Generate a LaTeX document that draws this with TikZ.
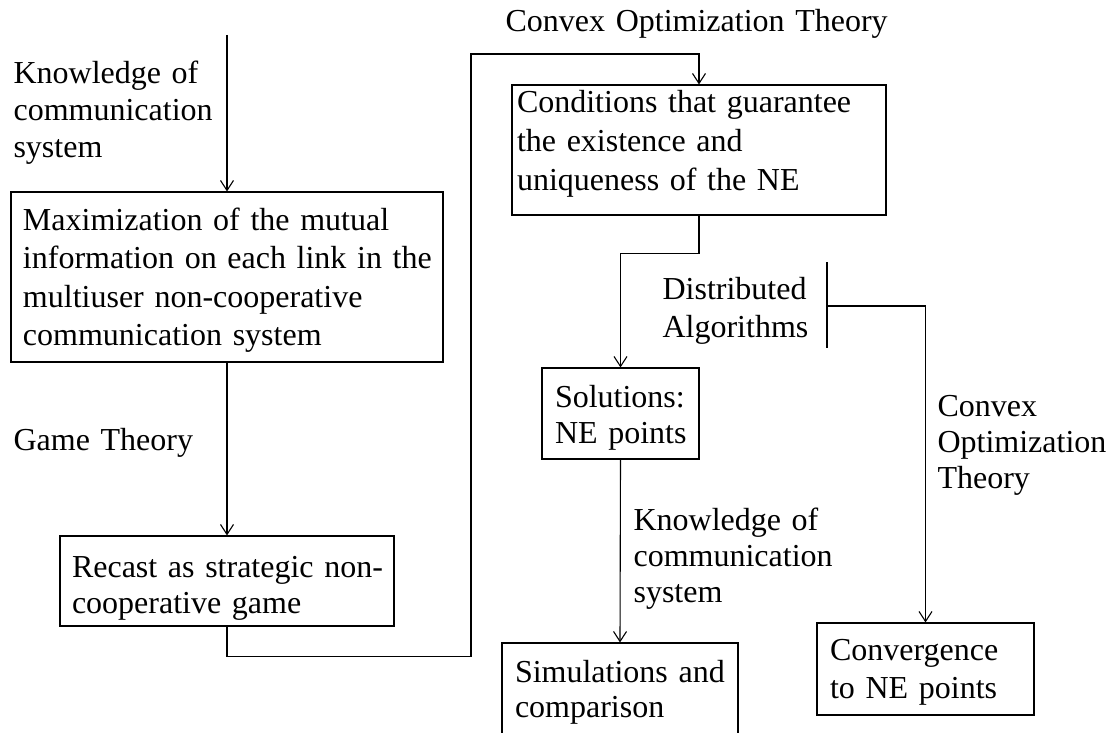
\documentclass[tikz,border=0pt]{standalone}
\usepackage{fontspec}
\setmainfont{Liberation Serif}
\usetikzlibrary{arrows.meta}
\newcommand\nohyph{\hyphenpenalty=10000 \exhyphenpenalty=10000\relax}

\begin{document}
\begin{tikzpicture}[
  x=1pt, y=-1pt,
  line width=1.1pt,
  box/.style={draw,inner xsep=12pt,inner ysep=0pt,align=left,anchor=base,
              font=\fontsize{32}{#1}\selectfont,execute at begin node=\nohyph},
  lbl/.style={inner sep=0pt,align=left,anchor=base west,
              font=\fontsize{32}{#1}\selectfont},
  arr/.style={-{Straight Barb[length=10pt,width=13pt]}}
]
\clip (0,0) rectangle (1117,733);

% boxes
\node[box=38.5,text width=408pt,text height=38pt,text depth=132pt] (maxi) at (227,230)
  {Maximization~of~the~mutual\\information~on~each~link~in~the\\multiuser~non-cooperative\\communication~system};
\node[box=36,text width=310pt,text height=41pt,text depth=49pt] (recast) at (227,577)
  {Recast~as~strategic~non-\\cooperative~game};
\node[box=39,inner xsep=5pt,text width=364pt,text height=28pt,text depth=102pt] (cond) at (699,113)
  {Conditions~that~guarantee\\the~existence~and\\uniqueness~of~the~NE};
\node[box=36,inner xsep=13pt,text width=131pt,text height=39pt,text depth=52pt] (sol) at (620.5,407)
  {Solutions:\\NE~points};
\node[box=35,inner xsep=13pt,text width=210pt,text height=39pt,text depth=70pt] (sim) at (620,682)
  {Simulations~and\\comparison};
\node[box=38,inner xsep=13pt,text width=191pt,text height=37pt,text depth=55pt] (conv) at (925.5,660)
  {Convergence\\to~NE~points};

% labels
\node[lbl=37,text width=220pt] (knowa) at (13,84) {Knowledge of\\communication\\system};
\node[lbl=36,text width=200pt] (game) at (13,450) {Game Theory};
\node[lbl=36,text width=420pt] (cvxa) at (505,32) {Convex Optimization Theory};
\node[lbl=38,text width=160pt] (dist) at (662,299) {Distributed\\Algorithms};
\node[lbl=36,text width=210pt] (knowb) at (633,530) {Knowledge of\\communication\\system};
\node[lbl=36,text width=190pt] (cvxb) at (937,416) {Convex\\Optimization\\Theory};

% connectors
\coordinate (src) at (227,35);
\coordinate (loop) at (471,54);
\coordinate (bartop) at (827,262);
\coordinate (barbot) at (827,348);
\coordinate (barmid) at (827,306);

\draw[arr] (src) -- (maxi.north);
\draw[arr] (maxi.south) -- (recast.north);
\draw[arr] (recast.south) -- ++(0,30) -| (loop) -| (cond.north);
\draw[arr] (cond.south) -- ++(0,38) -| (sol.north);
\draw[arr] (sol.south) -- (sim.north);
\draw (bartop) -- (barbot);
\draw[arr] (barmid) -| (conv.north);
\end{tikzpicture}
\end{document}
